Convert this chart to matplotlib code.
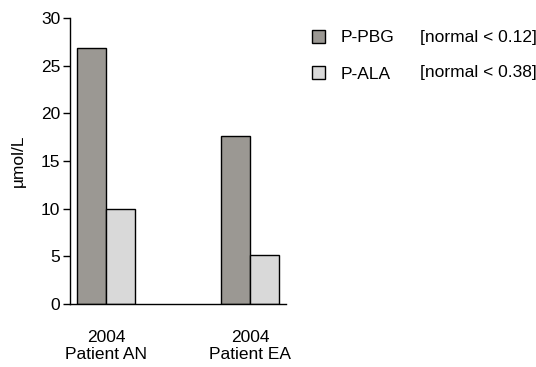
import matplotlib.pyplot as plt
import numpy as np

plt.rcParams['font.family'] = ['Liberation Sans', 'DejaVu Sans']

patients = ["2004\nPatient AN", "2004\nPatient EA"]
pbg = [26.8, 17.6]
ala = [10.0, 5.1]
series_labels = ["P-PBG", "P-ALA"]
normal_ranges = ["[normal < 0.12]", "[normal < 0.38]"]

fs = 12.5
fig = plt.figure(figsize=(5.36, 3.67), dpi=100)
ax = fig.add_axes([0.1306, 0.1717, 0.4030, 0.7793])

x = np.arange(len(patients))
w = 0.2
b1 = ax.bar(x - w / 2, pbg, w, color="#9b9893", edgecolor="black", linewidth=1.0,
            label=series_labels[0])
b2 = ax.bar(x + w / 2, ala, w, color="#d9d9d9", edgecolor="black", linewidth=1.0,
            label=series_labels[1])

ax.set_xlim(-0.25, 1.25)
ax.set_ylim(0, 30)
ax.set_yticks([0, 5, 10, 15, 20, 25, 30])
ax.set_xticks(x)
ax.set_xticklabels(patients, fontsize=fs, linespacing=1.1)
ax.tick_params(axis="x", length=0, pad=19)
ax.tick_params(axis="y", labelsize=fs, length=5, width=1, direction="out", pad=2)
ax.set_ylabel("µmol/L", fontsize=fs, labelpad=11)
for s in ["top", "right"]:
    ax.spines[s].set_visible(False)
for s in ["left", "bottom"]:
    ax.spines[s].set_linewidth(1.0)

leg = fig.legend(handles=[b1, b2], loc="upper left", bbox_to_anchor=(0.569, 0.937),
                 frameon=False, fontsize=fs, handlelength=0.75, handleheight=0.75,
                 handletextpad=0.9, labelspacing=1.2, borderaxespad=0)
for txt, yy in zip(normal_ranges, [0.898, 0.803]):
    fig.text(0.783, yy, txt, fontsize=fs, va="center", ha="left")

fig.savefig("out.png", dpi=100)
